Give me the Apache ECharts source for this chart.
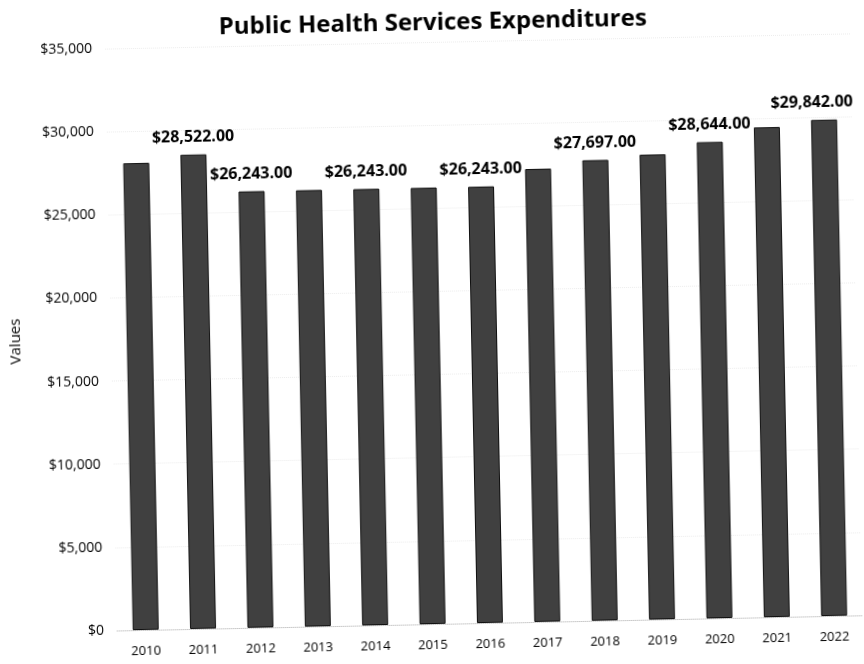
<!DOCTYPE html>
<html>
<head>
<meta charset="utf-8">
<script src="https://cdn.jsdelivr.net/npm/echarts@6/dist/echarts.min.js"></script>
<style>
  html, body { margin: 0; padding: 0; background: #fff; }
  #chart { width: 864px; height: 664px; transform: rotate(-1.17deg); transform-origin: 50% 50%; }
</style>
</head>
<body>
<div id="chart"></div>
<script>
const titleText = 'Public Health Services Expenditures';
const yAxisName = 'Values';
const years = ['2010','2011','2012','2013','2014','2015','2016','2017','2018','2019','2020','2021','2022'];
const values = [28080, 28522, 26243, 26243, 26243, 26243, 26243, 27240, 27697, 27960, 28644, 29460, 29842];
const labelShown = [false, true, true, false, true, false, true, false, true, false, true, false, true];
const yMin = 0, yMax = 35000, yStep = 5000;

const chart = echarts.init(document.getElementById('chart'), null, { renderer: 'canvas' });
const fmtMoney = v => '$' + Number(v).toLocaleString('en-US', { minimumFractionDigits: 2, maximumFractionDigits: 2 });

chart.setOption({
  backgroundColor: '#ffffff',
  animation: false,
  title: {
    text: titleText,
    left: 434, top: 6, textAlign: 'center',
    textStyle: { fontFamily: 'Open Sans', fontWeight: 'bold', fontSize: 24, color: '#000' }
  },
  grid: { left: 111, right: 7, top: 42, bottom: 40, containLabel: false },
  xAxis: {
    type: 'category',
    data: years,
    axisTick: { show: false },
    axisLine: { show: true, lineStyle: { color: '#c8c8c8', type: 'dotted', width: 1 } },
    axisLabel: { color: '#000', fontFamily: 'Open Sans', fontSize: 13, margin: 15 }
  },
  yAxis: {
    type: 'value',
    min: yMin, max: yMax, interval: yStep,
    name: yAxisName,
    nameLocation: 'middle',
    nameGap: 88,
    nameTextStyle: { color: '#000', fontFamily: 'Open Sans', fontSize: 15 },
    axisLine: { show: false },
    axisTick: { show: false },
    splitLine: { show: true, lineStyle: { color: '#ececec', type: 'dotted', width: 1 } },
    axisLabel: {
      color: '#000', fontFamily: 'Open Sans', fontSize: 14, margin: 13,
      formatter: v => '$' + Number(v).toLocaleString('en-US')
    }
  },
  series: [{
    type: 'bar',
    barWidth: 26,
    data: values.map((v, i) => ({
      value: v,
      label: { show: labelShown[i], offset: i === values.length - 1 ? [-12, 0] : [0, 0] }
    })),
    itemStyle: { color: '#404040', borderColor: '#101010', borderWidth: 1 },
    label: {
      position: 'top',
      distance: 9,
      color: '#000',
      fontFamily: 'Open Sans',
      fontWeight: 'bold',
      fontSize: 16,
      formatter: p => fmtMoney(p.value)
    }
  }]
});
</script>
</body>
</html>
